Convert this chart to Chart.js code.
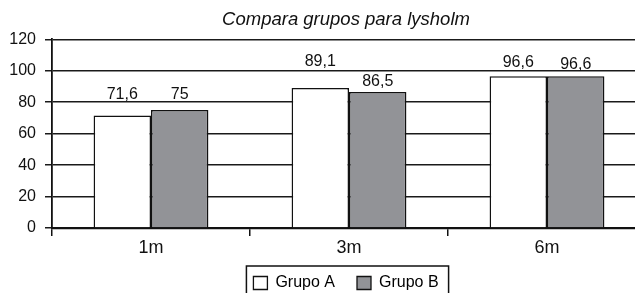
<!DOCTYPE html>
<html>
<head>
<meta charset="utf-8">
<script src="https://cdn.jsdelivr.net/npm/chart.js@4/dist/chart.umd.min.js"></script>
<style>
  html, body { margin: 0; padding: 0; background: #fff; overflow: hidden; }
  #wrap { width: 635px; height: 293px; overflow: hidden; position: relative; }
  canvas { position: absolute; left: 0; top: 0; }
</style>
</head>
<body>
<div id="wrap"><canvas id="chart" width="692" height="301"></canvas></div>
<script>
// Dados
const categorias = ['1m', '3m', '6m'];
const grupoA = [71.6, 89.1, 96.6];
const grupoB = [75, 86.5, 96.6];
const yTicks = [0, 20, 40, 60, 80, 100, 120];

// deslocamento dos rótulos acima das barras (px), como no original
const liftA = [21, 26, 14];
const liftB = [16, 10, 12];

const fonte = '"Liberation Sans", Arial, Helvetica, sans-serif';
Chart.defaults.font.family = fonte;
Chart.defaults.color = '#111';

// Rótulos de valor com vírgula decimal
const valoresPlugin = {
  id: 'valores',
  afterDatasetsDraw(chart) {
    const ctx = chart.ctx;
    ctx.save();
    ctx.font = '16px ' + fonte;
    ctx.fillStyle = '#111';
    ctx.textAlign = 'center';
    ctx.textBaseline = 'middle';
    chart.data.datasets.forEach((ds, di) => {
      const lifts = di === 0 ? liftA : liftB;
      chart.getDatasetMeta(di).data.forEach((bar, i) => {
        const txt = String(ds.data[i]).replace('.', ',');
        ctx.fillText(txt, bar.x, bar.y - lifts[i]);
      });
    });
    ctx.restore();
  }
};

// Moldura da legenda
const molduraLegenda = {
  id: 'molduraLegenda',
  afterDraw(chart) {
    const boxes = chart.legend && chart.legend.legendHitBoxes;
    if (!boxes || !boxes.length) return;
    const left = Math.min(...boxes.map(b => b.left)) - 7;
    const right = Math.max(...boxes.map(b => b.left + b.width)) + 10;
    const top = boxes[0].top - 9;
    const ctx = chart.ctx;
    ctx.save();
    ctx.strokeStyle = '#111';
    ctx.lineWidth = 1.5;
    ctx.strokeRect(left, top, right - left, 40);
    ctx.restore();
  }
};

new Chart(document.getElementById('chart'), {
  type: 'bar',
  data: {
    labels: categorias,
    datasets: [
      {
        label: 'Grupo A',
        data: grupoA,
        backgroundColor: '#ffffff',
        borderColor: '#111',
        borderWidth: 1.5,
        categoryPercentage: 0.58,
        barPercentage: 1.0,
      },
      {
        label: 'Grupo B',
        data: grupoB,
        backgroundColor: '#929397',
        borderColor: '#111',
        borderWidth: 1.5,
        categoryPercentage: 0.58,
        barPercentage: 1.0,
      },
    ],
  },
  options: {
    responsive: false,
    animation: false,
    layout: { padding: 0 },
    plugins: {
      title: {
        display: true,
        text: 'Compara grupos para lysholm',
        color: '#111',
        font: { size: 18.5, style: 'italic', weight: 'normal', lineHeight: 1.1 },
        padding: { top: 10, bottom: 9 },
      },
      legend: {
        position: 'bottom',
        labels: {
          color: '#111',
          font: { size: 16 },
          boxWidth: 14,
          boxHeight: 13,
          padding: 22,
          generateLabels(chart) {
            return chart.data.datasets.map((ds, i) => ({
              text: ds.label,
              fillStyle: ds.backgroundColor,
              strokeStyle: '#111',
              lineWidth: 1.3,
              datasetIndex: i,
            }));
          },
        },
      },
      tooltip: { enabled: false },
    },
    scales: {
      x: {
        grid: {
          offset: true,
          drawOnChartArea: false,
          drawTicks: true,
          tickLength: 8,
          color: '#111',
          lineWidth: 1.5,
        },
        border: { display: true, color: '#111', width: 2.2 },
        ticks: { color: '#111', font: { size: 18 }, padding: 1 },
        afterFit(s) { s.height = 25; },
      },
      y: {
        min: 0,
        max: 120,
        afterBuildTicks(s) { s.ticks = yTicks.map(v => ({ value: v })); },
        grid: {
          color: '#1a1a1a',
          lineWidth: 1.5,
          drawTicks: true,
          tickLength: 7,
        },
        border: { display: true, color: '#111', width: 1.8 },
        ticks: { color: '#111', font: { size: 16 }, padding: 9 },
        afterFit(s) { s.width = 52; },
      },
      y2: {
        position: 'right',
        display: true,
        grid: { display: false },
        border: { display: false },
        ticks: { display: false },
        afterFit(s) { s.width = 46; },
      },
    },
  },
  plugins: [valoresPlugin, molduraLegenda],
});
</script>
</body>
</html>
